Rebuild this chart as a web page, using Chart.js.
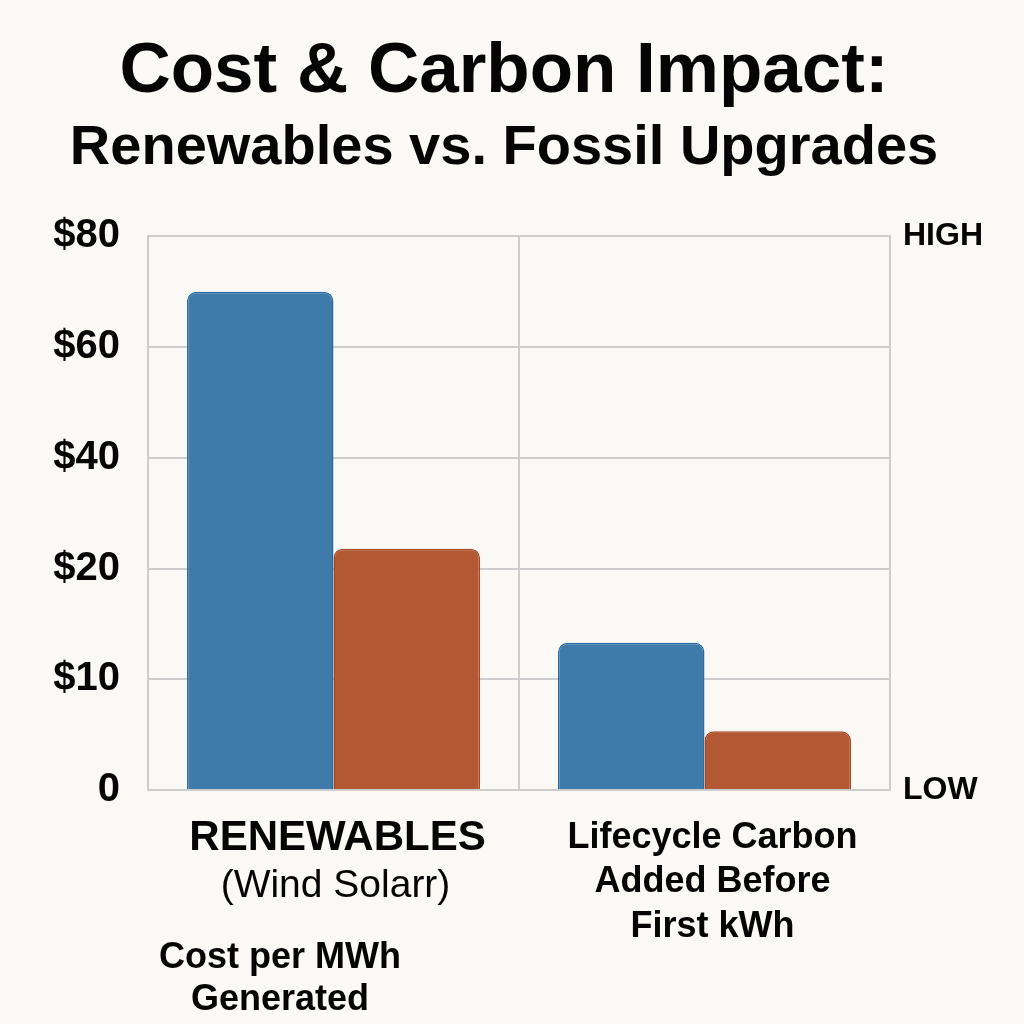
<!DOCTYPE html>
<html><head><meta charset="utf-8">
<script src="https://cdn.jsdelivr.net/npm/chart.js@4.4.1/dist/chart.umd.min.js"></script>
<style>html,body{margin:0;padding:0;background:#FAF9F6;} canvas{display:block;}</style>
</head><body>
<canvas id="c" width="1024" height="1024"></canvas>
<script>
const titleText = "Cost & Carbon Impact:";
const subtitleText = "Renewables vs. Fossil Upgrades";
const categories = [["RENEWABLES", "(Wind Solarr)"], ["Lifecycle Carbon", "Added Before", "First kWh"]];
const seriesNames = ["Renewables", "Fossil Upgrades"];
const blueValues = [70, 13.3];
const orangeValues = [23.6, 5.3];
const costTickValues = [0, 10, 20, 40, 60, 80];
const costTickLabels = ["0", "$10", "$20", "$40", "$60", "$80"];
const rightTickLabels = ["LOW", "HIGH"];
const noteLines = ["Cost per MWh", "Generated"];

// the cost axis has evenly spaced ticks with uneven dollar steps: map dollars onto tick index space
function toAxis(v) {
  for (let i = 1; i < costTickValues.length; i++) {
    const a = costTickValues[i - 1], b = costTickValues[i];
    if (v <= b) return (i - 1) + (v - a) / (b - a);
  }
  return costTickValues.length - 1;
}
const TOP = costTickValues.length - 1;

const FONT = "'Liberation Sans', Arial, sans-serif";
const gridColor = '#CDCDCD';
const ink = '#050505';

const labelsPlugin = {
  id: 'catLabels',
  afterDraw(chart) {
    const ctx = chart.ctx, xs = chart.scales.x, area = chart.chartArea;
    ctx.save();
    ctx.fillStyle = ink;
    ctx.textAlign = 'center';
    ctx.textBaseline = 'middle';
    const x0 = xs.getPixelForValue(0);
    ctx.font = `bold 42px ${FONT}`;
    ctx.fillText(categories[0][0], x0 + 4, area.bottom + 48);
    ctx.font = `39px ${FONT}`;
    ctx.fillText(categories[0][1], x0 + 2, area.bottom + 96);
    const x1 = xs.getPixelForValue(1);
    ctx.font = `bold 36px ${FONT}`;
    categories[1].forEach((l, i) => ctx.fillText(l, x1 + 8, area.bottom + 48 + i * 44.5));
    ctx.font = `bold 36px ${FONT}`;
    noteLines.forEach((l, i) => ctx.fillText(l, area.left + 132, area.bottom + 168 + i * 42));
    ctx.restore();
  }
};

new Chart(document.getElementById('c'), {
  type: 'bar',
  data: {
    labels: categories.map(l => l.join(' ')),
    datasets: [
      {
        label: seriesNames[0],
        data: blueValues.map(toAxis),
        backgroundColor: '#3E7BAA',
        borderColor: '#2C6AA3',
        borderWidth: 1.5,
        borderRadius: { topLeft: 9, topRight: 9, bottomLeft: 0, bottomRight: 0 },
        borderSkipped: 'bottom'
      },
      {
        label: seriesNames[1],
        data: orangeValues.map(toAxis),
        backgroundColor: '#B25934',
        borderColor: '#A8461F',
        borderWidth: 1.5,
        borderRadius: { topLeft: 9, topRight: 9, bottomLeft: 0, bottomRight: 0 },
        borderSkipped: 'bottom'
      }
    ]
  },
  options: {
    responsive: false,
    animation: false,
    devicePixelRatio: 1,
    layout: { padding: { left: 0, right: 16, top: 0, bottom: 0 } },
    datasets: { bar: { categoryPercentage: 0.79, barPercentage: 1.0 } },
    plugins: {
      legend: { display: false },
      tooltip: { enabled: false },
      title: {
        display: true, text: titleText, color: ink,
        font: { family: FONT, size: 71, weight: 'bold', lineHeight: 1.2 },
        padding: { top: 30, bottom: 0 }
      },
      subtitle: {
        display: true, text: subtitleText, color: ink,
        font: { family: FONT, size: 56, weight: 'bold', lineHeight: 1.2 },
        padding: { top: 0, bottom: 54 }
      }
    },
    scales: {
      x: {
        type: 'category',
        ticks: { display: false },
        grid: { offset: true, color: gridColor, lineWidth: 2, drawTicks: false },
        border: { display: false },
        afterFit(s) { s.height = 234; }
      },
      y: {
        position: 'left', min: 0, max: TOP,
        ticks: {
          stepSize: 1, color: ink, padding: 28,
          callback: (v) => costTickLabels[v] ?? '',
          font: { family: FONT, size: 40, weight: 'bold' }
        },
        grid: { color: gridColor, lineWidth: 2, drawTicks: false },
        border: { display: true, color: gridColor, width: 2 },
        afterFit(s) { s.width = 148; }
      },
      y1: {
        position: 'right', min: 0, max: TOP,
        ticks: {
          stepSize: 1, color: ink, padding: 13,
          callback: (v) => v === TOP ? rightTickLabels[1] : (v === 0 ? rightTickLabels[0] : ''),
          font: { family: FONT, size: 32, weight: 'bold' }
        },
        grid: { drawOnChartArea: false, drawTicks: false },
        border: { display: true, color: gridColor, width: 2 },
        afterFit(s) { s.width = 118; }
      }
    }
  },
  plugins: [labelsPlugin]
});
</script>
</body></html>
